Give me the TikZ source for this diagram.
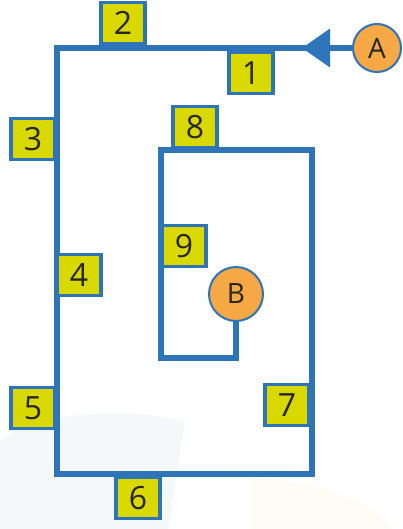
\documentclass[tikz,border=0pt]{standalone}
\usepackage{fontspec}
\setmainfont{Open Sans}
\usepackage{tikz}
\usetikzlibrary{arrows.meta,positioning}

\definecolor{routeblue}{HTML}{2E74B8}
\definecolor{boxyellow}{HTML}{D9D900}
\definecolor{pinorange}{HTML}{F5A843}

\begin{document}
\begin{tikzpicture}[x=0.75pt,y=-0.75pt]
  \tikzstyle{route}=[routeblue,line width=4.5pt,line join=miter]
  \tikzstyle{numbox}=[rectangle,draw=routeblue,fill=boxyellow,line width=2.4pt,
    minimum width=33pt,minimum height=31pt,inner sep=0pt,
    font=\fontsize{24}{24}\selectfont,text=black!85]
  \tikzstyle{pin}=[circle,draw=routeblue,fill=pinorange,line width=1.5pt,
    inner sep=0pt,font=\fontsize{21}{21}\selectfont,text=black!85]

  \useasboundingbox (0,0) rectangle (403,529);

  % faint marks in the background
  \fill[routeblue!5] (0,440) .. controls (40,412) and (130,405) .. (185,422)
    -- (168,529) -- (0,529) -- cycle;
  \fill[pinorange!6] (250,529) -- (250,478) .. controls (320,482) and (370,500) .. (392,529) -- cycle;

  \node[pin,minimum size=36pt] (A) at (377,48) {A};
  \node[pin,minimum size=40.5pt] (B) at (236,294) {B};

  \coordinate (c1) at (57,48);
  \coordinate (c2) at (57,474);
  \coordinate (c3) at (312,474);
  \coordinate (c4) at (312,150);
  \coordinate (c5) at (161,150);
  \coordinate (c6) at (161,358);
  \coordinate (c7) at (236,358);
  \coordinate (tip) at (302,48);

  \draw[route] (A) -- (c1) -- (c2) -- (c3) -- (c4) -- (c5) -- (c6) -- (c7) -- (B);
  \draw[route,-{Triangle[length=21pt,width=28pt]}] (A) -- (tip);

  \node[numbox] (n1) at (251,73) {1};
  \node[numbox] (n2) at (123,23) {2};
  \node[numbox] (n3) at (33,139) {3};
  \node[numbox] (n4) at (79,275) {4};
  \node[numbox] (n5) at (33,408) {5};
  \node[numbox] (n6) at (138,498) {6};
  \node[numbox] (n7) at (287,405) {7};
  \node[numbox] (n8) at (195,127) {8};
  \node[numbox] (n9) at (184,246) {9};
\end{tikzpicture}
\end{document}
